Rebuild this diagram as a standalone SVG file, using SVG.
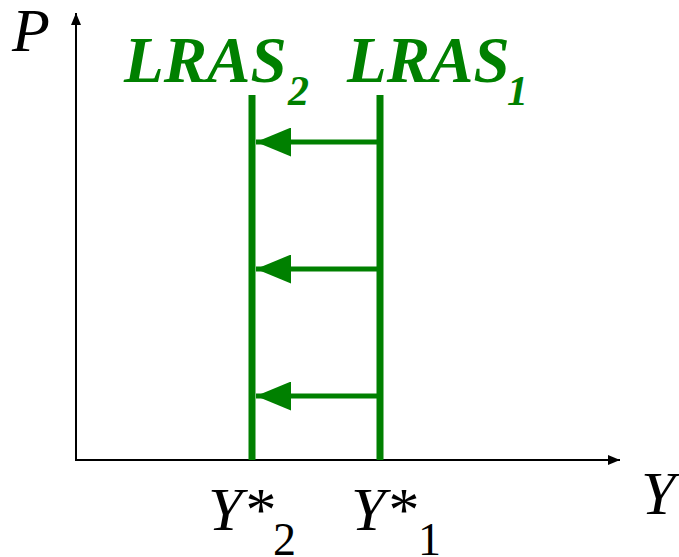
<svg xmlns="http://www.w3.org/2000/svg" width="679" height="557" viewBox="0 0 679 557">
  <style>
    .axis { stroke: #000; stroke-width: 2; fill: none; }
    .lras { stroke: #008000; stroke-width: 7; fill: none; }
    .shift { stroke: #008000; stroke-width: 5; fill: none; }
    .lbl { font-family: "Liberation Serif", "Times New Roman", serif; font-style: italic; fill: #000; }
    .sub { font-family: "Liberation Serif", "Times New Roman", serif; font-style: normal; fill: #000; }
    .glbl { font-family: "Liberation Serif", "Times New Roman", serif; font-style: italic; font-weight: bold; fill: #008000; }
  </style>
  <defs>
    <marker id="axhead" markerUnits="userSpaceOnUse" markerWidth="12" markerHeight="10" refX="12" refY="5" orient="auto">
      <path d="M0,0 L12,5 L0,10 Z" fill="#000"/>
    </marker>
    <marker id="ghead" markerUnits="userSpaceOnUse" markerWidth="36" markerHeight="29" refX="35" refY="14.5" orient="auto">
      <path d="M0,0 L35,14.5 L0,29 Z" fill="#008000"/>
    </marker>
  </defs>
  <rect width="679" height="557" fill="#fff"/>

  <g id="axes">
    <line class="axis" x1="76" y1="460" x2="76" y2="13" marker-end="url(#axhead)"/>
    <line class="axis" x1="75" y1="460" x2="620" y2="460" marker-end="url(#axhead)"/>
    <text class="lbl" x="12" y="51" font-size="62">P</text>
    <text class="lbl" x="641" y="514" font-size="62">Y</text>
  </g>

  <g id="lras2">
    <line class="lras" x1="252" y1="95" x2="252" y2="460"/>
    <text class="glbl" x="124" y="82" font-size="65">LRAS</text>
    <text class="glbl" x="288" y="105" font-size="42">2</text>
    <text class="lbl" x="208" y="530" font-size="62">Y*</text>
    <text class="sub" x="273" y="555" font-size="46">2</text>
  </g>

  <g id="lras1">
    <line class="lras" x1="380" y1="95" x2="380" y2="460"/>
    <text class="glbl" x="347" y="82" font-size="65">LRAS</text>
    <text class="glbl" x="507" y="105" font-size="42">1</text>
    <text class="lbl" x="351" y="530" font-size="62">Y*</text>
    <text class="sub" x="418" y="555" font-size="46">1</text>
  </g>

  <g id="connectors">
    <line class="shift" x1="378" y1="142" x2="256" y2="142" marker-end="url(#ghead)"/>
    <line class="shift" x1="378" y1="269" x2="256" y2="269" marker-end="url(#ghead)"/>
    <line class="shift" x1="378" y1="396" x2="256" y2="396" marker-end="url(#ghead)"/>
  </g>
</svg>
